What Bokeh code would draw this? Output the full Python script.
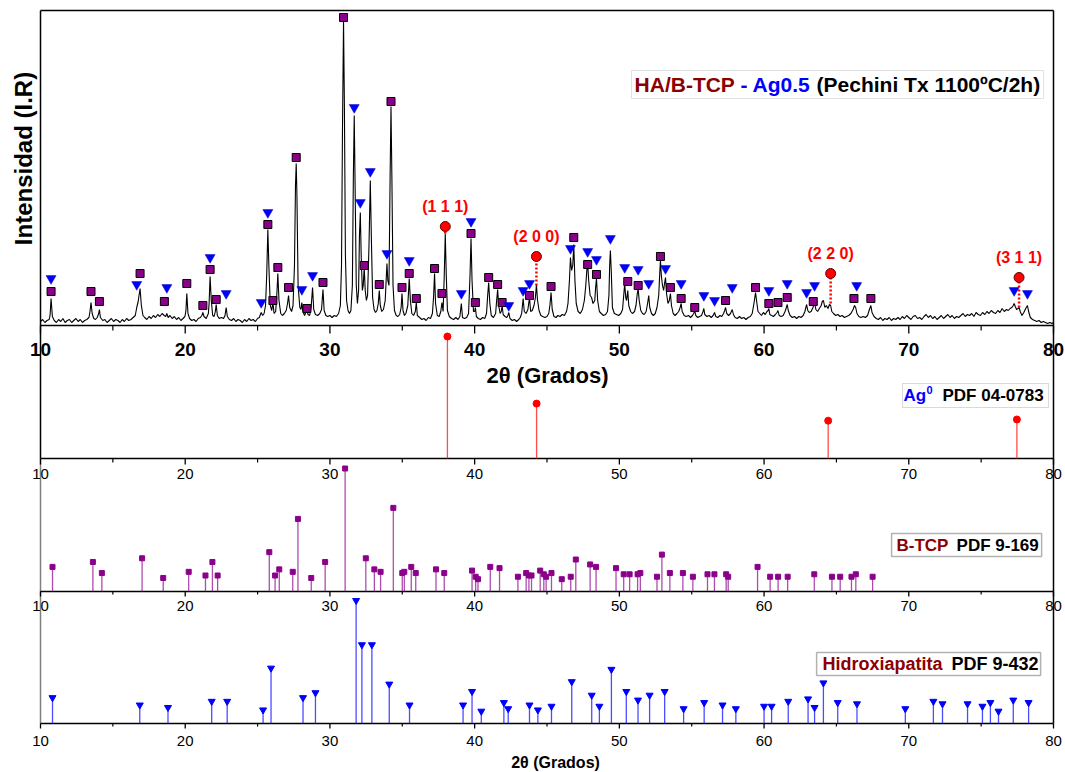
from bokeh.plotting import figure
from bokeh.models import (Range1d, LabelSet, Label, ColumnDataSource,
                          BoxAnnotation)
from bokeh.core.properties import value
from bokeh.embed import file_html
from bokeh.resources import INLINE

# ---------------- data ----------------
trace_2theta = [
    10.0, 10.15, 10.3, 10.45, 10.6, 10.66, 10.73, 10.82, 10.95, 11.1, 11.25, 11.4, 11.55, 11.7, 11.85,
    12.0, 12.15, 12.3, 12.45, 12.6, 12.75, 12.9, 13.05, 13.2, 13.35, 13.42, 13.49, 13.57, 13.68, 13.8,
    13.92, 14.02, 14.07, 14.14, 14.3, 14.45, 14.6, 14.75, 14.9, 15.05, 15.2, 15.35, 15.5, 15.65, 15.8,
    15.95, 16.1, 16.25, 16.4, 16.55, 16.65, 16.75, 16.88, 16.97, 17.08, 17.2, 17.35, 17.5, 17.65, 17.8,
    17.95, 18.1, 18.25, 18.4, 18.55, 18.65, 18.73, 18.82, 18.95, 19.1, 19.25, 19.4, 19.55, 19.7, 19.85,
    19.98, 20.05, 20.11, 20.19, 20.3, 20.45, 20.6, 20.75, 20.9, 21.05, 21.15, 21.22, 21.3, 21.45, 21.6,
    21.65, 21.72, 21.8, 21.9, 22.0, 22.08, 22.14, 22.22, 22.35, 22.5, 22.65, 22.75, 22.83, 22.91, 23.05,
    23.2, 23.35, 23.5, 23.65, 23.8, 23.95, 24.1, 24.25, 24.4, 24.55, 24.7, 24.85, 25.0, 25.12, 25.25,
    25.35, 25.45, 25.55, 25.63, 25.71, 25.78, 25.88, 25.98, 26.06, 26.14, 26.25, 26.32, 26.4, 26.48, 26.6,
    26.72, 26.85, 26.98, 27.07, 27.14, 27.22, 27.35, 27.45, 27.55, 27.62, 27.67, 27.72, 27.8, 27.92, 28.0,
    28.06, 28.13, 28.25, 28.35, 28.41, 28.48, 28.6, 28.7, 28.8, 28.88, 29.0, 29.15, 29.3, 29.42, 29.52,
    29.6, 29.72, 29.85, 30.0, 30.15, 30.3, 30.45, 30.6, 30.72, 30.8, 30.87, 30.94, 31.0, 31.07, 31.15,
    31.25, 31.35, 31.45, 31.55, 31.62, 31.68, 31.74, 31.82, 31.9, 31.98, 32.04, 32.1, 32.16, 32.24, 32.3,
    32.37, 32.44, 32.52, 32.6, 32.7, 32.79, 32.86, 32.95, 33.05, 33.15, 33.25, 33.34, 33.41, 33.48, 33.58,
    33.7, 33.82, 33.9, 33.94, 34.0, 34.08, 34.16, 34.22, 34.28, 34.36, 34.46, 34.58, 34.7, 34.82, 34.92,
    34.98, 35.05, 35.15, 35.25, 35.38, 35.48, 35.56, 35.66, 35.78, 35.9, 35.97, 36.04, 36.2, 36.35, 36.5,
    36.65, 36.8, 36.95, 37.08, 37.16, 37.23, 37.3, 37.42, 37.55, 37.66, 37.74, 37.82, 37.9, 37.97, 38.04,
    38.12, 38.25, 38.4, 38.55, 38.7, 38.85, 38.98, 39.08, 39.16, 39.3, 39.45, 39.58, 39.68, 39.75, 39.82,
    39.92, 40.0, 40.05, 40.12, 40.25, 40.4, 40.55, 40.7, 40.82, 40.9, 40.97, 41.05, 41.15, 41.3, 41.45,
    41.52, 41.59, 41.66, 41.76, 41.84, 41.9, 41.97, 42.1, 42.22, 42.3, 42.36, 42.44, 42.6, 42.75, 42.9,
    43.05, 43.15, 43.25, 43.35, 43.43, 43.55, 43.68, 43.79, 43.87, 43.98, 44.1, 44.2, 44.27, 44.34, 44.45,
    44.58, 44.7, 44.85, 45.0, 45.12, 45.2, 45.28, 45.36, 45.48, 45.62, 45.75, 45.9, 46.05, 46.2, 46.35,
    46.45, 46.55, 46.62, 46.7, 46.78, 46.85, 46.93, 47.02, 47.15, 47.3, 47.45, 47.58, 47.68, 47.75, 47.81,
    47.88, 47.98, 48.08, 48.18, 48.3, 48.36, 48.42, 48.5, 48.62, 48.75, 48.9, 49.05, 49.18, 49.28, 49.33,
    49.38, 49.44, 49.52, 49.65, 49.8, 49.95, 50.1, 50.22, 50.3, 50.37, 50.44, 50.5, 50.58, 50.65, 50.78,
    50.9, 51.05, 51.15, 51.24, 51.3, 51.37, 51.48, 51.6, 51.72, 51.85, 51.95, 52.03, 52.1, 52.22, 52.35,
    52.48, 52.6, 52.72, 52.8, 52.84, 52.9, 52.98, 53.06, 53.12, 53.19, 53.26, 53.36, 53.45, 53.53, 53.6,
    53.72, 53.85, 53.98, 54.1, 54.2, 54.27, 54.34, 54.48, 54.62, 54.78, 54.92, 55.05, 55.14, 55.21, 55.28,
    55.42, 55.55, 55.68, 55.78, 55.84, 55.9, 56.05, 56.2, 56.35, 56.48, 56.58, 56.66, 56.8, 56.95, 57.08,
    57.2, 57.28, 57.34, 57.42, 57.55, 57.68, 57.8, 57.88, 58.0, 58.15, 58.3, 58.45, 58.6, 58.75, 58.9,
    59.05, 59.18, 59.3, 59.41, 59.48, 59.58, 59.7, 59.82, 59.95, 60.08, 60.2, 60.28, 60.33, 60.4, 60.52,
    60.65, 60.78, 60.9, 60.96, 61.04, 61.18, 61.32, 61.45, 61.54, 61.6, 61.67, 61.8, 61.95, 62.1, 62.25,
    62.4, 62.55, 62.7, 62.82, 62.94, 63.02, 63.12, 63.25, 63.38, 63.49, 63.58, 63.7, 63.82, 63.95, 64.02,
    64.1, 64.2, 64.3, 64.42, 64.52, 64.6, 64.68, 64.8, 64.95, 65.1, 65.25, 65.4, 65.55, 65.7, 65.85,
    66.0, 66.15, 66.25, 66.33, 66.42, 66.55, 66.7, 66.85, 67.0, 67.15, 67.28, 67.38, 67.46, 67.6, 67.75,
    67.9, 68.05, 68.2, 68.35, 68.5, 68.65, 68.8, 68.95, 69.1, 69.25, 69.4, 69.55, 69.7, 69.85, 70.0,
    70.15, 70.3, 70.45, 70.6, 70.75, 70.9, 71.05, 71.2, 71.35, 71.5, 71.65, 71.8, 71.95, 72.1, 72.25,
    72.4, 72.55, 72.7, 72.85, 73.0, 73.15, 73.3, 73.45, 73.6, 73.75, 73.9, 74.05, 74.2, 74.35, 74.5,
    74.65, 74.8, 74.95, 75.1, 75.25, 75.4, 75.55, 75.7, 75.85, 76.0, 76.15, 76.3, 76.45, 76.6, 76.75,
    76.88, 77.0, 77.12, 77.22, 77.28, 77.36, 77.45, 77.55, 77.62, 77.7, 77.82, 77.95, 78.08, 78.2, 78.28,
    78.4, 78.55, 78.7, 78.85, 79.0, 79.15, 79.3, 79.45, 79.6, 79.75, 79.9, 80.0]
trace_counts = [
    4, 6, 3, 5, 6, 10, 27, 9, 5, 3, 6, 4, 7, 3, 5,
    6, 3, 5, 7, 4, 6, 3, 5, 6, 8, 14, 23, 12, 7, 6,
    8, 12, 16, 8, 5, 6, 3, 5, 7, 4, 6, 5, 3, 6, 4,
    7, 5, 6, 8, 10, 18, 24, 37, 20, 10, 8, 6, 9, 7, 10,
    8, 11, 9, 12, 10, 9, 12, 8, 10, 7, 9, 6, 8, 5, 7,
    9, 15, 32, 12, 7, 5, 6, 4, 7, 8, 10, 13, 9, 7, 12,
    22, 49, 25, 10, 9, 14, 21, 10, 7, 8, 7, 10, 18, 9, 6,
    5, 7, 4, 6, 5, 3, 6, 4, 7, 5, 6, 4, 7, 8, 13,
    10, 12, 20, 50, 96, 60, 20, 15, 23, 12, 14, 28, 52, 25, 12,
    10, 12, 15, 22, 30, 18, 14, 20, 60, 140, 162, 130, 40, 18, 16,
    23, 14, 10, 14, 17, 11, 10, 18, 38, 16, 11, 10, 12, 16, 36,
    15, 10, 9, 10, 8, 10, 9, 12, 20, 60, 200, 305, 220, 70, 25,
    15, 12, 15, 40, 150, 210, 140, 40, 22, 35, 90, 113, 70, 35, 40,
    58, 35, 25, 30, 80, 145, 90, 28, 16, 13, 15, 22, 35, 20, 14,
    16, 25, 50, 62, 45, 40, 150, 219, 150, 40, 15, 10, 9, 11, 18,
    32, 15, 10, 12, 20, 47, 25, 12, 10, 14, 23, 10, 8, 6, 7,
    5, 8, 7, 12, 28, 52, 22, 10, 9, 14, 23, 14, 50, 92, 50,
    15, 9, 7, 6, 8, 6, 9, 22, 8, 7, 8, 12, 50, 87, 45,
    14, 14, 18, 9, 7, 6, 8, 7, 12, 30, 43, 22, 10, 8, 12,
    25, 36, 20, 12, 14, 20, 11, 9, 8, 10, 13, 7, 5, 6, 4,
    6, 8, 12, 27, 14, 12, 16, 28, 14, 15, 20, 28, 41, 26, 15,
    10, 9, 8, 9, 12, 20, 33, 16, 9, 8, 10, 9, 11, 10, 14,
    22, 45, 68, 55, 60, 81, 45, 22, 14, 12, 16, 25, 40, 55, 62,
    45, 30, 28, 22, 25, 38, 47, 25, 14, 12, 10, 11, 14, 30, 60,
    75, 55, 18, 12, 11, 10, 12, 16, 30, 42, 28, 25, 35, 20, 14,
    12, 14, 20, 32, 37, 25, 15, 12, 11, 14, 22, 30, 18, 12, 10,
    12, 18, 30, 55, 65, 50, 40, 35, 42, 48, 32, 22, 25, 32, 20,
    12, 10, 12, 14, 18, 22, 14, 10, 9, 10, 8, 10, 12, 15, 10,
    8, 9, 10, 14, 17, 11, 9, 10, 8, 10, 13, 9, 8, 10, 9,
    12, 15, 18, 12, 10, 12, 16, 11, 8, 7, 9, 7, 8, 6, 8,
    9, 12, 22, 33, 25, 14, 12, 10, 13, 11, 14, 15, 17, 11, 10,
    9, 11, 13, 15, 10, 9, 10, 14, 18, 21, 15, 10, 8, 9, 7,
    9, 8, 10, 14, 21, 15, 13, 14, 18, 23, 16, 14, 17, 20, 24,
    25, 18, 20, 17, 21, 20, 14, 12, 10, 11, 9, 10, 8, 9, 10,
    12, 16, 20, 18, 12, 9, 8, 9, 8, 10, 16, 20, 13, 9, 7,
    6, 8, 5, 7, 6, 8, 5, 7, 6, 8, 6, 9, 7, 10, 8,
    6, 9, 10, 7, 8, 6, 9, 11, 8, 10, 7, 9, 6, 8, 10,
    7, 9, 11, 8, 10, 7, 9, 8, 10, 12, 9, 11, 10, 12, 9,
    13, 11, 10, 13, 11, 14, 12, 15, 13, 12, 15, 13, 17, 14, 16,
    15, 17, 18, 20, 22, 19, 16, 17, 18, 14, 10, 13, 17, 20, 14,
    8, 6, 5, 4, 5, 3, 4, 3, 2, 3, 2, 3]

# phases identified on the measured pattern (marker heights above baseline)
hap_obs_2theta = [10.73, 16.65, 18.73, 21.72, 22.83, 25.25, 25.71, 28.06, 28.80, 31.68,
                  32.10, 32.79, 33.94, 35.48, 39.08, 39.75, 42.36, 43.35, 43.79, 46.62,
                  47.81, 48.42, 49.38, 50.37, 51.30, 52.03, 53.19, 54.27, 55.84, 56.58,
                  57.80, 60.33, 61.60, 62.94, 63.49, 66.40, 77.28, 78.20]
hap_obs_mark = [47, 41, 38, 68, 32, 23, 113, 36, 50, 218,
                123, 154, 72, 65, 32, 104, 20, 35, 42, 77,
                74, 66, 87, 58, 56, 42, 57, 42, 30, 25,
                38, 35, 42, 33, 40, 40, 35, 32]

tcp_obs_2theta = [10.73, 13.49, 14.07, 16.88, 18.56, 20.11, 21.22, 21.72, 22.14, 25.71,
                  26.06, 26.40, 27.14, 27.67, 28.41, 29.52, 30.94, 32.37, 33.41, 34.22,
                  34.98, 35.48, 35.97, 37.23, 37.74, 39.75, 40.05, 40.97, 41.59, 41.90,
                  43.79, 45.28, 46.85, 47.81, 48.42, 50.58, 51.30, 52.84, 53.53, 54.27,
                  55.21, 57.34, 59.41, 60.33, 60.96, 61.60, 63.40, 66.21, 67.38]
tcp_obs_mark = [34, 34, 24, 52, 24, 42, 20, 56, 26, 101,
                25, 58, 38, 168, 17, 43, 308, 60, 41, 224,
                38, 52, 27, 57, 32, 92, 23, 48, 41, 23,
                30, 39, 88, 61, 51, 44, 40, 69, 38, 27,
                18, 25, 38, 22, 23, 28, 24, 27, 27]

ag_obs_2theta = [37.97, 44.27, 64.60, 77.62]
ag_obs_mark = [99, 69, 52, 48]
ag_obs_peak = [92, 40, 22, 18]
ag_hkl = ["(1 1 1)", "(2 0 0)", "(2 2 0)", "(3 1 1)"]

# reference patterns (relative intensity, %)
ag_ref_2theta = [38.12, 44.28, 64.43, 77.47]
ag_ref_int = [100, 45, 31, 32]

tcp_ref_2theta = [10.83, 13.62, 14.24, 17.02, 18.48, 20.24, 21.40, 21.88, 22.24, 25.81,
                  26.21, 26.50, 27.43, 27.79, 28.71, 29.67, 31.05, 32.48, 33.07, 33.50,
                  34.38, 35.00, 35.14, 35.62, 35.93, 37.33, 37.90, 39.82, 40.07, 40.23,
                  41.08, 41.72, 42.99, 43.56, 43.75, 43.93, 44.53, 44.78, 44.94, 45.31,
                  46.02, 46.64, 46.99, 47.98, 48.39, 49.77, 50.30, 50.71, 51.26, 51.45,
                  52.60, 52.94, 53.49, 54.39, 55.08, 56.09, 56.57, 57.38, 57.52, 59.55,
                  60.42, 60.97, 61.63, 63.47, 64.69, 65.26, 66.04, 66.34, 67.50]
tcp_ref_int = [20, 24, 15, 27, 11, 16, 13, 24, 13, 32,
               13, 18, 16, 59, 11, 24, 100, 27, 18, 16,
               68, 15, 16, 20, 15, 18, 15, 17, 12, 10,
               20, 19, 12, 15, 13, 13, 17, 14, 12, 15,
               10, 12, 26, 22, 20, 19, 14, 14, 14, 15,
               12, 30, 15, 15, 12, 14, 14, 14, 12, 20,
               12, 12, 12, 14, 12, 12, 12, 14, 12]

ha_ref_2theta = [10.83, 16.86, 18.81, 21.83, 22.90, 25.38, 25.93, 28.14, 29.00, 31.81,
                 32.21, 32.90, 34.10, 35.50, 39.20, 39.82, 40.46, 42.02, 42.32, 43.79,
                 44.37, 45.31, 46.71, 48.09, 48.62, 49.45, 50.48, 51.29, 52.09, 53.13,
                 54.44, 55.86, 57.13, 58.05, 60.00, 60.52, 61.67, 63.04, 63.49, 64.10,
                 65.09, 66.42, 69.76, 71.70, 72.33, 74.06, 75.09, 75.64, 76.20, 77.22,
                 78.28]
ha_ref_int = [21, 15, 13, 18, 18, 11, 45, 21, 25, 100,
              64, 64, 32, 15, 15, 26, 10, 17, 12, 15,
              11, 14, 34, 23, 14, 44, 26, 19, 23, 26,
              12, 17, 15, 12, 14, 14, 18, 20, 13, 33,
              17, 16, 12, 18, 16, 16, 14, 17, 10, 19,
              17]

major_ticks = [10, 20, 30, 40, 50, 60, 70, 80]
minor_ticks = [15, 25, 35, 45, 55, 65, 75]
tick_labels = ["10", "20", "30", "40", "50", "60", "70", "80"]

# ---------------- layout / style ----------------
FONT = "Liberation Sans"
PURPLE = "#8B008B"
BLUE = "#0000FF"
RED = "#FF0000"
DARKRED = "#8B0000"
X_MIN, X_MAX = 10, 80
PX_PER_DEG = 14.471
PAD_L, PAD_R = 40, 11                      # px of canvas outside the 10..80 span
FRAME_W = round((X_MAX - X_MIN) * PX_PER_DEG) + PAD_L + PAD_R
FRAME_H = 771
TOP_LINE = 10                               # px below canvas top: upper border
TOP_BASE, AG_BASE, TCP_BASE, HA_BASE = 325, 458, 591, 723
K_TOP, K_AG, K_TCP, K_HA = 1.0, 1.22, 1.23, 1.23   # px per unit


def panel_range(base, k):
    return Range1d(start=(base - FRAME_H) / k, end=base / k)


def top_units(px_from_top):
    return (TOP_BASE - px_from_top) / K_TOP


p = figure(frame_width=FRAME_W, frame_height=FRAME_H,
           x_range=Range1d(X_MIN - PAD_L / PX_PER_DEG, X_MAX + PAD_R / PX_PER_DEG),
           y_range=panel_range(TOP_BASE, K_TOP),
           output_backend="svg", toolbar_location=None,
           min_border=0, background_fill_color="white",
           border_fill_color="white")
p.extra_y_ranges = {"ag": panel_range(AG_BASE, K_AG),
                    "tcp": panel_range(TCP_BASE, K_TCP),
                    "ha": panel_range(HA_BASE, K_HA)}
p.grid.visible = False
p.axis.visible = False
p.outline_line_color = None

# ---- frame borders ----
y_top = top_units(TOP_LINE)
y_ag = top_units(AG_BASE)
y_ha = top_units(HA_BASE)
p.segment(x0=X_MIN, y0=y_top, x1=X_MAX, y1=y_top, line_color="black", line_width=1.5)
p.segment(x0=X_MIN, y0=y_top, x1=X_MIN, y1=y_ag, line_color="black", line_width=1.5)
p.segment(x0=X_MIN, y0=y_ag, x1=X_MIN, y1=y_ha, line_color="#808080", line_width=1.5)
p.segment(x0=X_MAX, y0=y_top, x1=X_MAX, y1=y_ha, line_color="black", line_width=1.5)


def inner_axis(rng, k, major_len, minor_len, label_offset, size, style):
    p.segment(x0=X_MIN, y0=0, x1=X_MAX, y1=0, y_range_name=rng,
              line_color="black", line_width=1.5)
    src_major = ColumnDataSource(dict(x=major_ticks, text=tick_labels))
    src_minor = ColumnDataSource(dict(x=minor_ticks))
    p.segment(x0="x", y0=0, x1="x", y1=-major_len / k, source=src_major,
              y_range_name=rng, line_color="black", line_width=1.3)
    p.segment(x0="x", y0=0, x1="x", y1=-minor_len / k, source=src_minor,
              y_range_name=rng, line_color="black", line_width=1.2)
    p.add_layout(LabelSet(x="x", y=0, text="text", source=src_major,
                          y_range_name=rng, y_offset=label_offset,
                          text_align="center", text_baseline="middle",
                          text_font=value(FONT), text_font_size=value(size),
                          text_font_style=value(style), text_color="black"))


inner_axis("default", K_TOP, 8, 5, -24, "19px", "bold")
inner_axis("ag", K_AG, 6, 4, -15, "15px", "normal")
inner_axis("tcp", K_TCP, 5, 3, -14, "15px", "normal")
inner_axis("ha", K_HA, 5, 3, -17, "15px", "normal")

# ---- measured pattern ----
p.line(trace_2theta, trace_counts, line_color="black", line_width=1.1)

p.segment(x0=ag_obs_2theta, y0=ag_obs_peak, x1=ag_obs_2theta, y1=ag_obs_mark,
          line_color=RED, line_width=2.5, line_dash="2 2")
p.scatter(tcp_obs_2theta, tcp_obs_mark, marker="square", size=8,
          fill_color=PURPLE, line_color="black", line_width=1)
p.scatter(hap_obs_2theta, hap_obs_mark, marker="inverted_triangle", size=10,
          fill_color=BLUE, line_color="#0000C0", line_width=0.5)
p.scatter(ag_obs_2theta, ag_obs_mark, marker="circle", size=10,
          fill_color=RED, line_color="#600000", line_width=1)
hkl_src = ColumnDataSource(dict(x=ag_obs_2theta, y=ag_obs_mark, text=ag_hkl))
p.add_layout(LabelSet(x="x", y="y", text="text", source=hkl_src, y_offset=20,
                      text_align="center", text_baseline="middle",
                      text_font=value(FONT), text_font_size=value("16px"),
                      text_font_style=value("bold"), text_color=RED))

# ---- reference patterns ----
ag_src = ColumnDataSource(dict(x=ag_ref_2theta, y=ag_ref_int))
p.segment(x0="x", y0=0, x1="x", y1="y", source=ag_src, y_range_name="ag",
          line_color="#FF2020", line_width=1.3, line_alpha=0.8)
p.scatter("x", "y", source=ag_src, y_range_name="ag", marker="circle", size=7,
          fill_color=RED, line_color=RED)

tcp_src = ColumnDataSource(dict(x=tcp_ref_2theta, y=tcp_ref_int))
p.segment(x0="x", y0=0, x1="x", y1="y", source=tcp_src, y_range_name="tcp",
          line_color=PURPLE, line_width=1.3, line_alpha=0.7)
p.scatter("x", "y", source=tcp_src, y_range_name="tcp", marker="square", size=5,
          fill_color=PURPLE, line_color=PURPLE)

ha_src = ColumnDataSource(dict(x=ha_ref_2theta, y=ha_ref_int))
p.segment(x0="x", y0=0, x1="x", y1="y", source=ha_src, y_range_name="ha",
          line_color=BLUE, line_width=1.3, line_alpha=0.7)
p.scatter("x", "y", source=ha_src, y_range_name="ha", marker="inverted_triangle",
          size=7, fill_color=BLUE, line_color=BLUE)


# ---- texts ----
def lab(x, y, text, size, color="black", style="bold", rng="default", **kw):
    p.add_layout(Label(x=x, y=y, text=text, y_range_name=rng, text_font=FONT,
                       text_font_size=size, text_font_style=style,
                       text_color=color, text_baseline="middle", **kw))


lab(8.83, 167, "Intensidad (I.R)", "24px", angle=90, angle_units="deg",
    text_align="center")
lab(45.04, 0, "2θ (Grados)", "22px", y_offset=-50, text_align="center")
lab(45.59, 0, "2θ (Grados)", "16px", rng="ha", y_offset=-39, text_align="center")

p.add_layout(BoxAnnotation(left=50.84, right=79.31, top=255, bottom=227,
                           fill_color="white", fill_alpha=1,
                           line_color="#A0A0A0", line_width=1))
lab(51.05, 241, "HA/B-TCP", "21px", DARKRED)
lab(58.37, 241, "- Ag0.5", "21px", BLUE)
lab(63.63, 241, "(Pechini Tx 1100ºC/2h)", "21px")

p.add_layout(BoxAnnotation(left=69.57, right=79.66, top=75 / K_AG, bottom=51 / K_AG,
                           y_range_name="ag", fill_color="white", fill_alpha=1,
                           line_color="#808080", line_width=1))
lab(69.64, 63 / K_AG, "Ag", "17px", BLUE, rng="ag")
lab(71.23, 69 / K_AG, "0", "11px", BLUE, rng="ag")
lab(72.33, 63 / K_AG, "PDF 04-0783", "17px", rng="ag")

p.add_layout(BoxAnnotation(left=68.81, right=79.18, top=58 / K_TCP, bottom=35 / K_TCP,
                           y_range_name="tcp", fill_color="white", fill_alpha=1,
                           line_color="black", line_width=1.5))
lab(69.15, 46.5 / K_TCP, "B-TCP", "17px", DARKRED, rng="tcp")
lab(73.3, 46.5 / K_TCP, "PDF 9-169", "17px", rng="tcp")

p.add_layout(BoxAnnotation(left=63.63, right=79.11, top=71 / K_HA, bottom=48 / K_HA,
                           y_range_name="ha", fill_color="white", fill_alpha=1,
                           line_color="black", line_width=1.5))
lab(64.04, 59.5 / K_HA, "Hidroxiapatita", "18px", DARKRED, rng="ha")
lab(72.95, 59.5 / K_HA, "PDF 9-432", "18px", rng="ha")

open("out.html", "w").write(file_html(p, INLINE))
